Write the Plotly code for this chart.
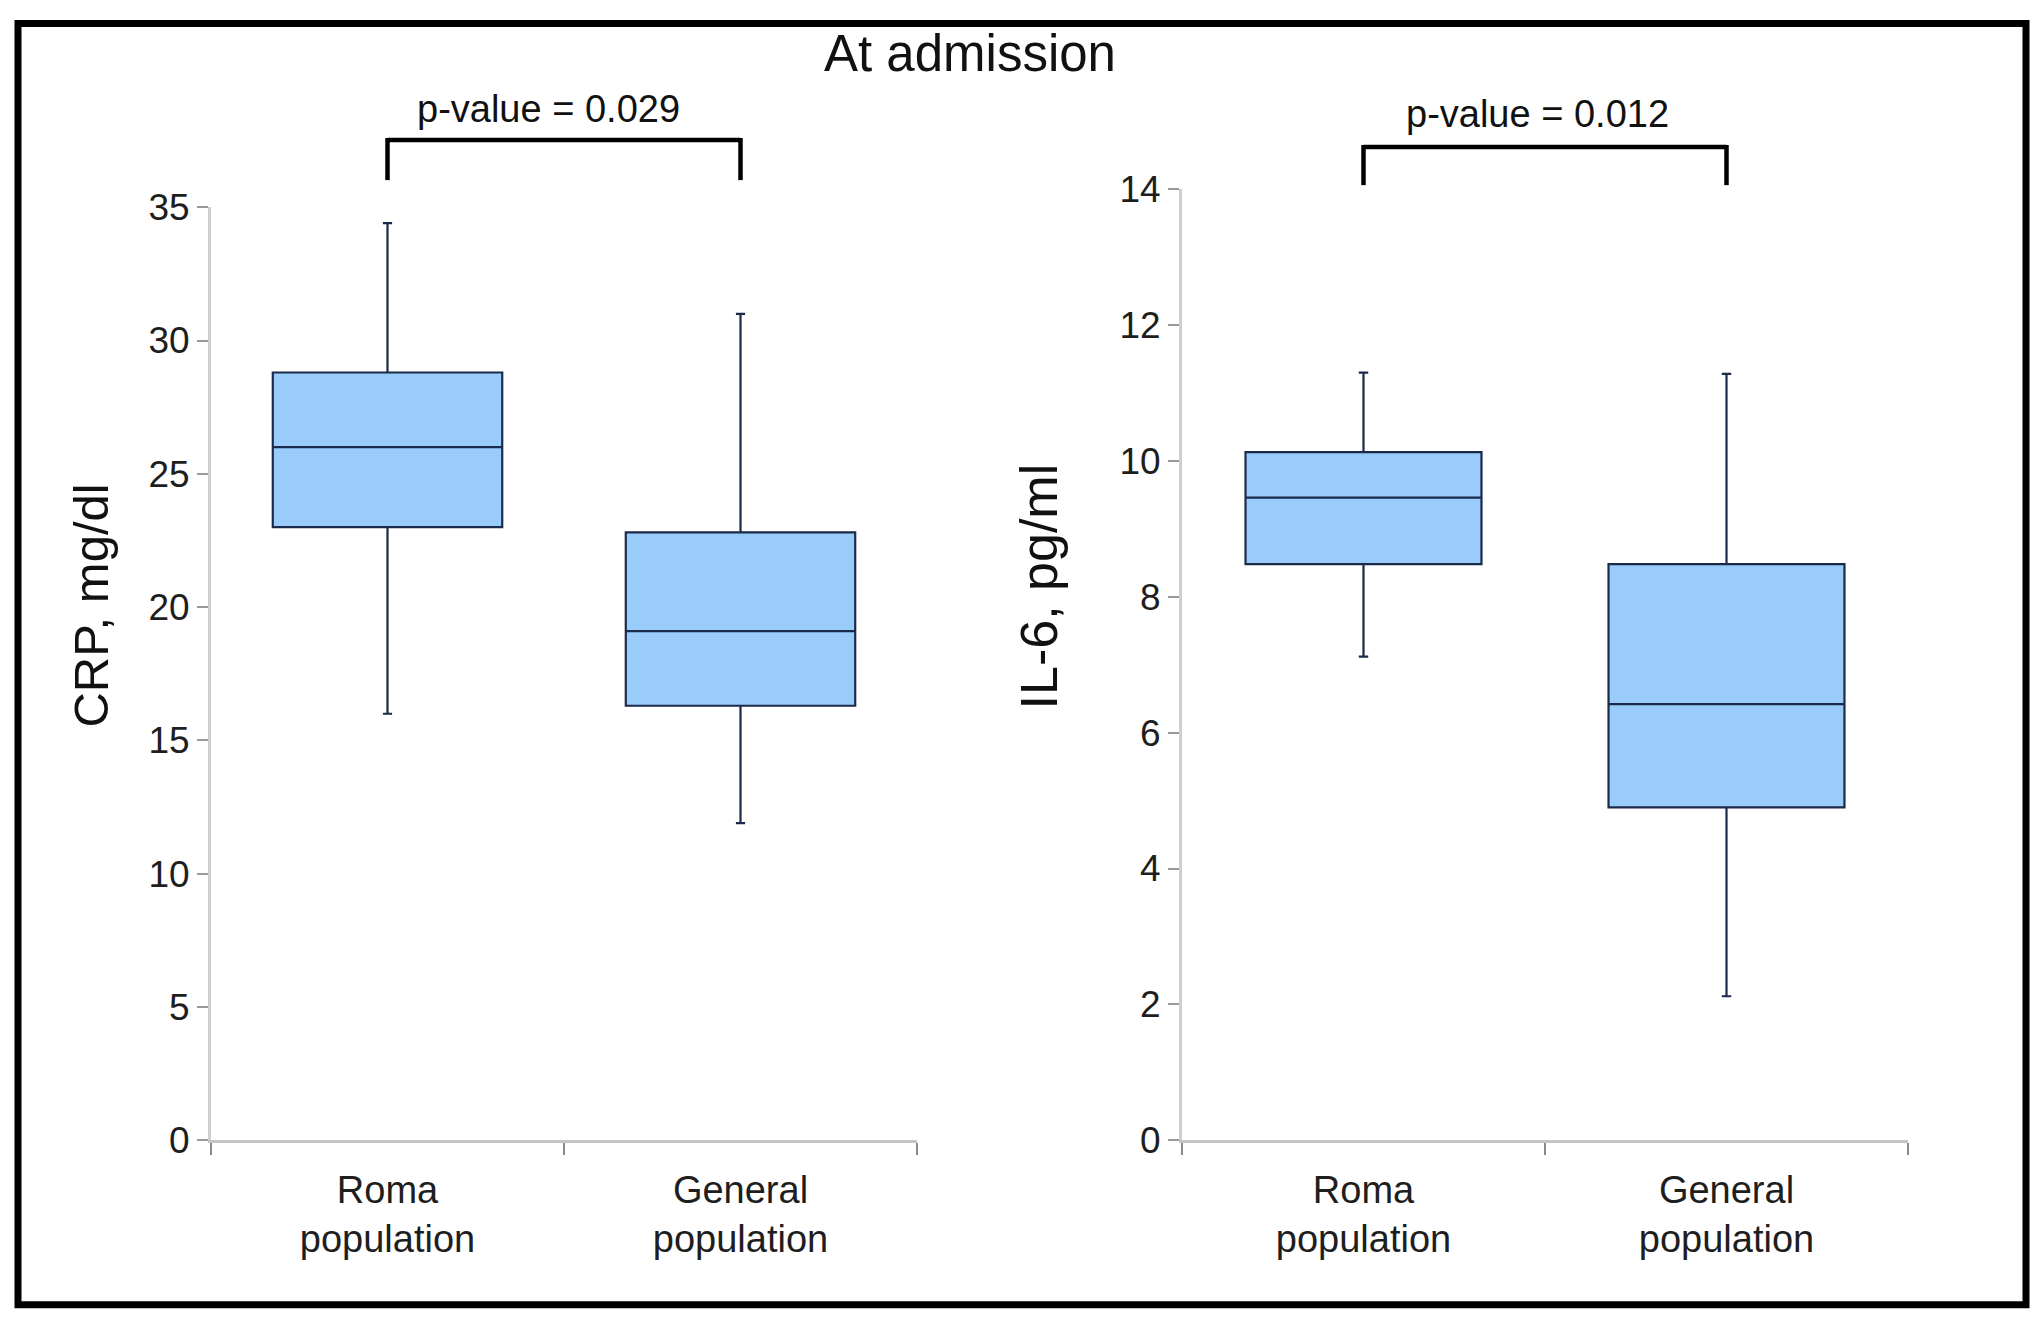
import plotly.graph_objects as go

# ---------------- data ----------------
categories = ["Roma<br>population", "General<br>population"]

crp_lower = [16.0, 11.9]
crp_q1 = [23.0, 16.3]
crp_median = [26.0, 19.1]
crp_q3 = [28.8, 22.8]
crp_upper = [34.4, 31.0]

il6_lower = [7.12, 2.12]
il6_q1 = [8.48, 4.9]
il6_median = [9.46, 6.42]
il6_q3 = [10.13, 8.48]
il6_upper = [11.3, 11.28]

crp_ticks = [0, 5, 10, 15, 20, 25, 30, 35]
il6_ticks = [0, 2, 4, 6, 8, 10, 12, 14]

title_text = "At admission"
crp_title = "CRP, mg/dl"
il6_title = "IL-6, pg/ml"
p_crp = "p-value = 0.029"
p_il6 = "p-value = 0.012"

# ---------------- layout helpers ----------------
W, H = 2042, 1330
YOFF, YSCALE = 21.4, 0.966   # vertical placement calibration of the photographed page
FONT = "Liberation Sans, Arial, sans-serif"
FILL = "#99CCFA"
EDGE = "#1B2A48"
TXT = "#1e1e1e"


def px_x(v):
    return v / W


def px_y(v):
    return 1 - ((v - YOFF) / YSCALE) / H


fig = go.Figure()

fig.add_trace(go.Box(
    x=categories, q1=crp_q1, median=crp_median, q3=crp_q3,
    lowerfence=crp_lower, upperfence=crp_upper,
    fillcolor=FILL, line=dict(color=EDGE, width=2.2),
    whiskerwidth=0.04, width=0.65, boxpoints=False,
    showlegend=False, hoverinfo="skip", xaxis="x", yaxis="y",
))
fig.add_trace(go.Box(
    x=categories, q1=il6_q1, median=il6_median, q3=il6_q3,
    lowerfence=il6_lower, upperfence=il6_upper,
    fillcolor=FILL, line=dict(color=EDGE, width=2.2),
    whiskerwidth=0.04, width=0.65, boxpoints=False,
    showlegend=False, hoverinfo="skip", xaxis="x2", yaxis="y2",
))

xcommon = dict(
    type="category", range=[-0.5, 1.5], showline=True, linecolor="#c4c4c4",
    linewidth=3, ticks="outside", tickson="boundaries", ticklen=12,
    tickcolor="#8a8a8a", tickwidth=1.5, showgrid=False, zeroline=False,
    tickfont=dict(family=FONT, size=38, color=TXT), ticklabelstandoff=14,
    fixedrange=True,
)
ycommon = dict(
    showline=True, linecolor="#cfcfcf", linewidth=3, ticks="outside",
    ticklen=11, tickcolor="#9a9a9a", tickwidth=1.5, showgrid=False,
    zeroline=False, tickfont=dict(family=FONT, size=37, color=TXT),
    fixedrange=True,
)

fig.update_layout(
    width=W, height=H,
    margin=dict(l=0, r=0, t=0, b=0),
    paper_bgcolor="white", plot_bgcolor="white",
    xaxis=dict(domain=[px_x(211), px_x(917)], anchor="y", **xcommon),
    yaxis=dict(domain=[px_y(1138), px_y(208)], anchor="x", range=[0, 35],
               tickvals=crp_ticks, **ycommon),
    xaxis2=dict(domain=[px_x(1182), px_x(1908)], anchor="y2", **xcommon),
    yaxis2=dict(domain=[px_y(1138), px_y(190)], anchor="x2", range=[0, 14],
                tickvals=il6_ticks, **ycommon),
)

annotations = [
    dict(text=title_text, x=px_x(970), y=px_y(55), xref="paper", yref="paper",
         showarrow=False, xanchor="center", yanchor="middle",
         font=dict(family=FONT, size=51, color="#111")),
    dict(text=crp_title, x=px_x(91), y=px_y(605), xref="paper", yref="paper",
         showarrow=False, textangle=-90, xanchor="center", yanchor="middle",
         font=dict(family=FONT, size=49, color="#111")),
    dict(text=il6_title, x=px_x(1039), y=px_y(586), xref="paper", yref="paper",
         showarrow=False, textangle=-90, xanchor="center", yanchor="middle",
         font=dict(family=FONT, size=52, color="#111")),
    dict(text=p_crp, x=px_x(548), y=px_y(110), xref="paper", yref="paper",
         showarrow=False, xanchor="center", yanchor="middle",
         font=dict(family=FONT, size=38, color="#111")),
    dict(text=p_il6, x=px_x(1537), y=px_y(115), xref="paper", yref="paper",
         showarrow=False, xanchor="center", yanchor="middle",
         font=dict(family=FONT, size=38, color="#111")),
]
fig.update_layout(annotations=annotations)

shapes = []


def bracket(xref, top, bottom):
    ln = dict(color="black", width=4.5)
    return [
        dict(type="line", xref=xref, yref="paper", x0=categories[0], x1=categories[0],
             y0=px_y(bottom), y1=px_y(top - 2), line=ln),
        dict(type="line", xref=xref, yref="paper", x0=categories[1], x1=categories[1],
             y0=px_y(bottom), y1=px_y(top - 2), line=ln),
        dict(type="line", xref=xref, yref="paper", x0=categories[0], x1=categories[1],
             y0=px_y(top), y1=px_y(top), line=ln),
    ]


shapes += bracket("x", 141, 181)
shapes += bracket("x2", 148, 186)
border_top = 1 - 3.6 / H
shapes.append(dict(type="rect", xref="paper", yref="paper",
                   x0=px_x(18), x1=px_x(2026), y0=px_y(1302), y1=border_top,
                   line=dict(color="black", width=7)))
fig.update_layout(shapes=shapes)

fig.write_html(
    "out.html",
    config={"displayModeBar": False},
    post_script="document.body.style.margin='0';document.body.style.overflow='hidden';",
)
